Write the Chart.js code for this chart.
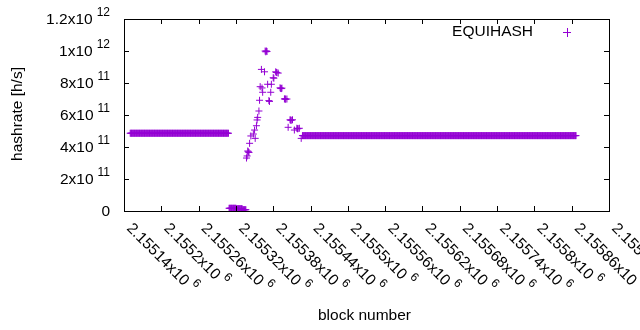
<!DOCTYPE html>
<html>
<head>
<meta charset="utf-8">
<script src="https://cdn.jsdelivr.net/npm/chart.js@4/dist/chart.umd.min.js"></script>
<style>
  body { margin: 0; background: #fff; }
</style>
</head>
<body>
<canvas id="myChart" width="640" height="330"></canvas>
<script>
// flat stretches: every block in the run has the same hashrate
const runStartBlocks = [2155150, 2155309, 2155321, 2155331, 2155427];
const runEndBlocks   = [2155308, 2155320, 2155330, 2155336, 2155867];
const runValues      = [4.86e11, 1.7e10, 1.4e10, 8e9, 4.71e11];

// the spike, read point by point
const spikeBlocks = [
  2155337, 2155338, 2155339, 2155340, 2155341, 2155342, 2155344, 2155348,
  2155350, 2155351, 2155353, 2155354, 2155355, 2155357, 2155358, 2155359,
  2155361, 2155362, 2155363, 2155366, 2155367, 2155368, 2155369, 2155370,
  2155371, 2155373, 2155374, 2155376, 2155377, 2155380, 2155381, 2155384,
  2155385, 2155386, 2155388, 2155391, 2155392, 2155393, 2155394, 2155398,
  2155399, 2155400, 2155402, 2155404, 2155407, 2155408, 2155409, 2155411,
  2155414, 2155418, 2155419, 2155420, 2155422, 2155425
];
const spikeValues = [
  3.31e11, 3.44e11, 3.75e11, 3.70e11, 3.66e11, 4.23e11, 4.69e11, 4.81e11,
  5.06e11, 4.54e11, 5.33e11, 5.69e11, 5.85e11, 6.25e11, 6.92e11, 7.77e11,
  8.85e11, 7.69e11, 7.42e11, 8.70e11, 1.0e12, 9.95e11, 1.0e12, 9.97e11,
  7.92e11, 6.90e11, 6.85e11, 7.42e11, 7.92e11, 8.33e11, 8.30e11, 8.70e11,
  8.66e11, 8.65e11, 8.62e11, 7.70e11, 7.66e11, 7.65e11, 7.68e11, 7.00e11,
  7.02e11, 6.98e11, 7.00e11, 5.23e11, 5.70e11, 5.68e11, 5.67e11, 5.70e11,
  5.06e11, 5.17e11, 5.14e11, 5.15e11, 5.17e11, 4.54e11
];

const xTickBlocks = [
  2155140, 2155200, 2155260, 2155320, 2155380, 2155440, 2155500,
  2155560, 2155620, 2155680, 2155740, 2155800, 2155860, 2155920
];
const xTickMantissas = [
  '2.15514', '2.1552', '2.15526', '2.15532', '2.15538', '2.15544', '2.1555',
  '2.15556', '2.15562', '2.15568', '2.15574', '2.1558', '2.15586', '2.15592'
];
const xTickExponent = '6';

const yTickValues    = [0, 2e11, 4e11, 6e11, 8e11, 1e12, 1.2e12];
const yTickMantissas = ['0', '2x10', '4x10', '6x10', '8x10', '1x10', '1.2x10'];
const yTickExponents = ['', '11', '11', '11', '11', '12', '12'];

const seriesName = 'EQUIHASH';
const purple = '#9400d3';
const font = '15.5px "Liberation Sans", Arial, sans-serif';
const supFont = '12px "Liberation Sans", Arial, sans-serif';

let points = [];
for (let r = 0; r < runStartBlocks.length; r++) {
  for (let b = runStartBlocks[r]; b <= runEndBlocks[r]; b++) {
    points.push({ x: b, y: runValues[r] });
  }
}
spikeBlocks.forEach((b, i) => points.push({ x: b, y: spikeValues[i] }));

// gnuplot look: box border, inward ticks on all sides, superscript labels
const gnuplotFrame = {
  id: 'gnuplotFrame',
  afterDraw(chart) {
    const ctx = chart.ctx;
    const a = chart.chartArea;
    const xs = chart.scales.x;
    const ys = chart.scales.y;
    ctx.save();
    ctx.strokeStyle = '#000';
    ctx.lineWidth = 1;
    ctx.strokeRect(a.left + 0.5, a.top + 0.5, a.right - a.left, a.bottom - a.top);

    ctx.beginPath();
    xTickBlocks.forEach(v => {
      const px = Math.round(xs.getPixelForValue(v)) + 0.5;
      ctx.moveTo(px, a.bottom); ctx.lineTo(px, a.bottom - 5);
      ctx.moveTo(px, a.top); ctx.lineTo(px, a.top + 5);
    });
    yTickValues.forEach(v => {
      const py = Math.round(ys.getPixelForValue(v)) + 0.5;
      ctx.moveTo(a.left, py); ctx.lineTo(a.left + 5, py);
      ctx.moveTo(a.right, py); ctx.lineTo(a.right - 5, py);
    });
    ctx.stroke();

    ctx.fillStyle = '#000';
    ctx.textBaseline = 'middle';

    // y tick labels, right aligned
    const yLabelRight = a.left - 14;
    yTickValues.forEach((v, i) => {
      const py = ys.getPixelForValue(v) + 1;
      ctx.font = supFont;
      const wExp = yTickExponents[i] ? ctx.measureText(yTickExponents[i]).width : 0;
      ctx.textAlign = 'right';
      if (yTickExponents[i]) {
        ctx.fillText(yTickExponents[i], yLabelRight, py - 7);
        ctx.font = font;
        ctx.fillText(yTickMantissas[i], yLabelRight - wExp - 4, py);
      } else {
        ctx.font = font;
        ctx.fillText(yTickMantissas[i], yLabelRight, py);
      }
    });

    // x tick labels, rotated 45 degrees clockwise
    xTickBlocks.forEach((v, i) => {
      const px = xs.getPixelForValue(v);
      ctx.save();
      ctx.translate(px + 5, a.bottom + 15);
      ctx.rotate(Math.PI / 4);
      ctx.textAlign = 'left';
      ctx.font = font;
      const txt = xTickMantissas[i] + 'x10';
      const w = ctx.measureText(txt).width;
      ctx.fillText(txt, 0, 0);
      ctx.font = supFont;
      ctx.fillText(xTickExponent, w + 4, -7);
      ctx.restore();
    });

    // axis titles
    ctx.font = font;
    ctx.textAlign = 'center';
    ctx.fillText('block number', (a.left + a.right) / 2 - 2, 316);
    ctx.save();
    ctx.translate(18, 114);
    ctx.rotate(-Math.PI / 2);
    ctx.fillText('hashrate [h/s]', 0, 0);
    ctx.restore();

    // key
    ctx.textAlign = 'right';
    ctx.fillText(seriesName, 533, 32);
    ctx.strokeStyle = purple;
    ctx.beginPath();
    ctx.moveTo(563, 32.5); ctx.lineTo(571, 32.5);
    ctx.moveTo(567.5, 28); ctx.lineTo(567.5, 37);
    ctx.stroke();

    ctx.restore();
  }
};

new Chart(document.getElementById('myChart'), {
  type: 'scatter',
  data: {
    datasets: [{
      label: seriesName,
      data: points,
      pointStyle: 'cross',
      pointRadius: 3.5,
      pointHoverRadius: 3.5,
      borderColor: purple,
      backgroundColor: purple,
      borderWidth: 1
    }]
  },
  options: {
    responsive: false,
    animation: false,
    events: [],
    layout: {
      autoPadding: false,
      padding: { left: 124, right: 31, top: 19, bottom: 119 }
    },
    plugins: {
      legend: { display: false },
      tooltip: { enabled: false }
    },
    scales: {
      x: {
        type: 'linear',
        min: 2155140,
        max: 2155920,
        ticks: { display: false },
        grid: { display: false, drawTicks: false },
        border: { display: false }
      },
      y: {
        type: 'linear',
        min: 0,
        max: 1.2e12,
        ticks: { display: false },
        grid: { display: false, drawTicks: false },
        border: { display: false }
      }
    }
  },
  plugins: [gnuplotFrame]
});
</script>
</body>
</html>
